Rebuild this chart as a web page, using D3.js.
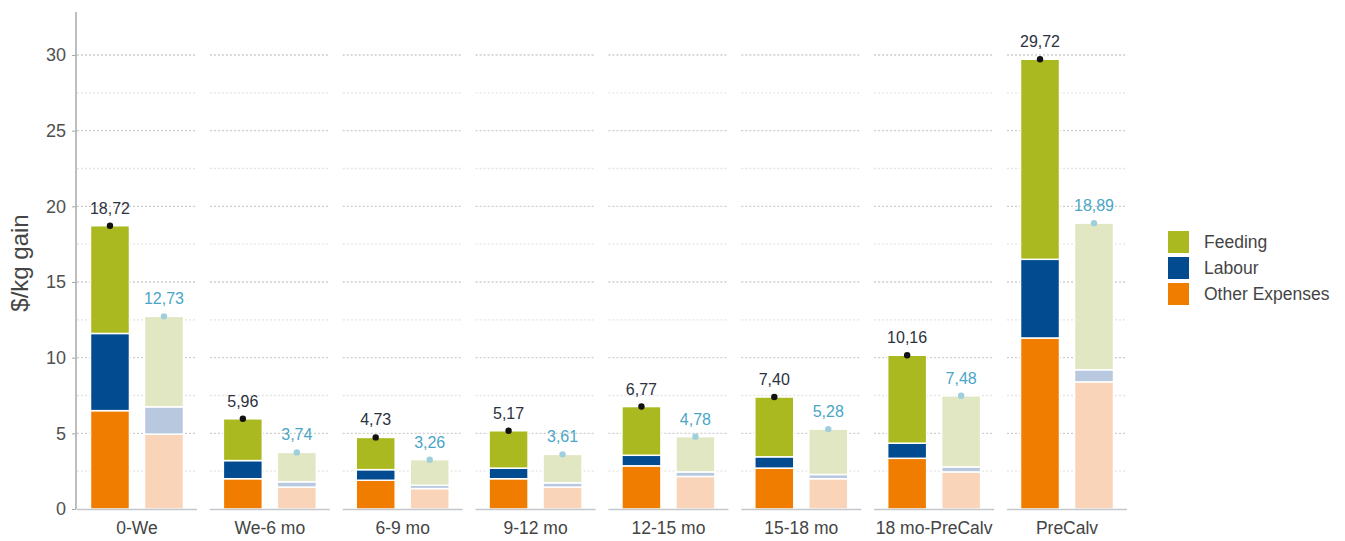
<!DOCTYPE html>
<html>
<head>
<meta charset="utf-8">
<script src="https://cdn.jsdelivr.net/npm/d3@7"></script>
<style>
  html, body { margin: 0; padding: 0; background: #ffffff; }
  svg { display: block; font-family: "Liberation Sans", Arial, sans-serif; }
</style>
</head>
<body>
<svg id="chart" width="1345" height="541"></svg>
<script>
// Cost of gain per stage, split by cost component
const stages = ["0-We", "We-6 mo", "6-9 mo", "9-12 mo", "12-15 mo", "15-18 mo", "18 mo-PreCalv", "PreCalv"];
const groups = ["farm", "benchmark"];
const components = ["Other Expenses", "Labour", "Feeding"];
const legendOrder = ["Feeding", "Labour", "Other Expenses"];

// Farm results (solid bars)
const farmOther   = [6.50, 2.00, 1.90, 2.00, 2.85, 2.70, 3.35, 11.30];
const farmLabour  = [5.10, 1.20, 0.70, 0.70, 0.70, 0.75, 1.00, 5.20];
const farmTotal   = [18.72, 5.96, 4.73, 5.17, 6.77, 7.40, 10.16, 29.72];

// Benchmark results (pale bars)
const benchOther  = [4.95, 1.45, 1.35, 1.45, 2.15, 2.00, 2.45, 8.40];
const benchLabour = [1.80, 0.35, 0.22, 0.28, 0.30, 0.28, 0.33, 0.80];
const benchTotal  = [12.73, 3.74, 3.26, 3.61, 4.78, 5.28, 7.48, 18.89];

const yTicks = [0, 5, 10, 15, 20, 25, 30];
const yMinorTicks = [2.5, 7.5, 12.5, 17.5, 22.5, 27.5];

const colors = {
  farm:      { "Feeding": "#a9b91f", "Labour": "#024b90", "Other Expenses": "#f07d00" },
  benchmark: { "Feeding": "#e1e7c3", "Labour": "#b7c8df", "Other Expenses": "#f9d4b9" }
};
const labelColors = { farm: "#2b3240", benchmark: "#4aa6c6" };
const dotColors = { farm: "#111111", benchmark: "#9fcfdc" };

const svg = d3.select("#chart");
const plotLeft = 77, plotRight = 1127, plotTop = 12, plotBottom = 509;

const fmt = d3.formatLocale({ decimal: ",", thousands: ".", grouping: [3], currency: ["$", ""] }).format(".2f");

const y = d3.scaleLinear().domain([0, 30]).range([plotBottom, 55]);
const panel = d3.scaleBand().domain(stages).range([plotLeft, plotRight]).paddingInner(0.097).paddingOuter(0);
const inner = d3.scaleBand().domain(groups).range([0, panel.bandwidth()]).paddingInner(0.278).paddingOuter(0.25);

// Build stacked records
const rows = stages.map((s, i) => ({
  stage: s,
  farm: { "Other Expenses": farmOther[i], "Labour": farmLabour[i], "Feeding": farmTotal[i] - farmOther[i] - farmLabour[i], total: farmTotal[i] },
  benchmark: { "Other Expenses": benchOther[i], "Labour": benchLabour[i], "Feeding": benchTotal[i] - benchOther[i] - benchLabour[i], total: benchTotal[i] }
}));

// Gridlines, drawn panel by panel
const grid = svg.append("g");
stages.forEach(s => {
  const x0 = panel(s), x1 = x0 + panel.bandwidth();
  grid.selectAll(null).data(yMinorTicks).join("line")
    .attr("x1", x0).attr("x2", x1)
    .attr("y1", d => y(d)).attr("y2", d => y(d))
    .attr("stroke", "#e4e4e4").attr("stroke-width", 1.3).attr("stroke-dasharray", "2,2");
  grid.selectAll(null).data(yTicks.filter(t => t > 0)).join("line")
    .attr("x1", x0).attr("x2", x1)
    .attr("y1", d => y(d)).attr("y2", d => y(d))
    .attr("stroke", "#cdcdcd").attr("stroke-width", 1.3).attr("stroke-dasharray", "2,2");
});

// Bars
rows.forEach(r => {
  const g = svg.append("g").attr("transform", `translate(${panel(r.stage)},0)`);
  groups.forEach(gr => {
    const stack = d3.stack().keys(components)([r[gr]]);
    g.selectAll(null).data(stack).join("rect")
      .attr("x", inner(gr))
      .attr("width", inner.bandwidth())
      .attr("y", d => y(d[0][1]))
      .attr("height", d => y(d[0][0]) - y(d[0][1]))
      .attr("fill", d => colors[gr][d.key])
      .attr("stroke", "#ffffff").attr("stroke-width", 1.5);
    const cx = inner(gr) + inner.bandwidth() / 2;
    g.append("circle")
      .attr("cx", cx).attr("cy", y(r[gr].total)).attr("r", 3.2)
      .attr("fill", dotColors[gr]);
    g.append("text")
      .attr("x", cx).attr("y", y(r[gr].total) - 12)
      .attr("text-anchor", "middle")
      .attr("font-size", 16)
      .attr("fill", labelColors[gr])
      .text(fmt(r[gr].total));
  });
});

// Panel baselines and stage labels
stages.forEach(s => {
  svg.append("line")
    .attr("x1", panel(s)).attr("x2", panel(s) + panel.bandwidth())
    .attr("y1", plotBottom + 0.5).attr("y2", plotBottom + 0.5)
    .attr("stroke", "#c4c8cc").attr("stroke-width", 1.3);
  svg.append("text")
    .attr("x", panel(s) + panel.bandwidth() / 2).attr("y", 534)
    .attr("text-anchor", "middle")
    .attr("font-size", 17.5).attr("fill", "#444444")
    .text(s);
});

// Y axis
const yAxis = d3.axisLeft(y).tickValues(yTicks).tickSize(4).tickPadding(6).tickFormat(d3.format("d"));
const ax = svg.append("g").attr("transform", `translate(${plotLeft - 1},0)`).call(yAxis);
ax.select(".domain").attr("d", `M0,${plotTop}V${plotBottom}`).attr("stroke", "#a8a8a8").attr("stroke-width", 1.5);
ax.selectAll(".tick line").attr("stroke", "#a8a8a8");
ax.selectAll(".tick text").attr("font-size", 18).attr("fill", "#505050").attr("font-family", "Liberation Sans, Arial, sans-serif");

svg.append("text")
  .attr("transform", `translate(28,263) rotate(-90)`)
  .attr("text-anchor", "middle")
  .attr("font-size", 24).attr("fill", "#454545")
  .text("$/kg gain");

// Legend
const legend = svg.append("g").attr("transform", "translate(1168,231)");
legendOrder.forEach((k, i) => {
  legend.append("rect")
    .attr("x", 0).attr("y", i * 26).attr("width", 21).attr("height", 22)
    .attr("fill", colors.farm[k]);
  legend.append("text")
    .attr("x", 36).attr("y", i * 26 + 17)
    .attr("font-size", 17.5).attr("fill", "#454545")
    .text(k);
});
</script>
</body>
</html>
